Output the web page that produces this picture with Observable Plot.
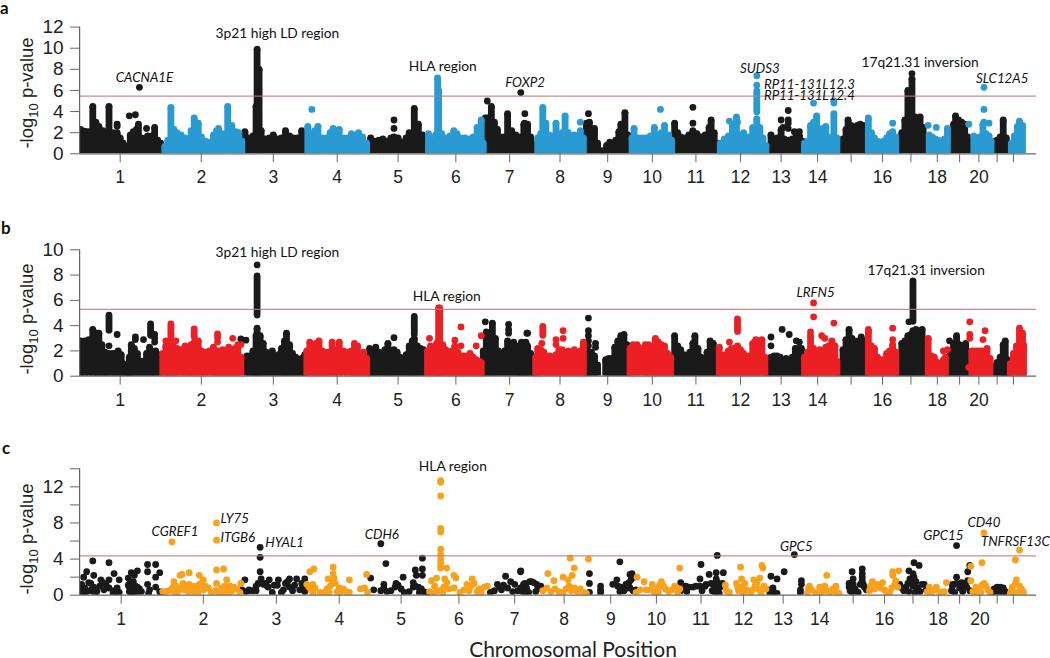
<!DOCTYPE html>
<html><head><meta charset="utf-8">
<script src="https://cdn.jsdelivr.net/npm/d3@7"></script>
<script src="https://cdn.jsdelivr.net/npm/@observablehq/plot@0.6"></script>
<style>
html,body{margin:0;padding:0;background:#fff;overflow:hidden}
#page{position:relative;width:1050px;height:658px;overflow:hidden;color:#111}
.ytitle{position:absolute;left:26.5px;transform:translate(-50%,-50%) rotate(-90deg);font:18.5px "Liberation Sans",sans-serif;white-space:nowrap;color:#222}
.ytitle sub{font-size:13px;line-height:0}
.letter{position:absolute;font:bold 17px/14px Lato,sans-serif;color:#111}
#xtitle{position:absolute;left:573px;top:639px;transform:translateX(-50%);font:21px/19px Lato,sans-serif;white-space:nowrap;color:#222}
</style></head><body><div id="page"></div>
<script>
// genome position units along the x axis; values are -log10 p
const DARK="#1a1a1a", BLUE="#2a9ad3", RED="#ec2024", ORANGE="#f9a11b";
const ticksAB=[40,120,191,254,314,371,424,481,528,572,615,659,699,735,768,799,827,853,875,894,912,928];
const ticksC=[41,122,194,256,317,374,429,485,531,576,620,662,701,737,770,801,829,854,875,895,912,928];
const chromLabels=["1","2","3","4","5","6","7","8","9","10","11","12","13","14","","16","","18","","20","",""];
// positions from chromosome 7's end onward were read on a second sheet whose origin sits 7.3 units later
const sheetBreak=442, sheetOffset=7.3;
const toPos=u=>u<sheetBreak?u:u-sheetOffset;

// ---------- panel a ----------
const aDarkColumns=[[1,2.3],[5,2.15],[9,2.1],[13,4.5],[16,3.0],[19,2.6],[23,2.2],[27,1.9],[29,4.5],[33,2.0],[37,2.0],[40,1.5],[43,1.0],[45,.7],[47,.4],[50,1.8],[53,2.1],[56,2.3],[58,2.8],[61,1.5],[65,1.4],[67,1.7],[71,1.7],[74,2.5],[77,1.3],[80,1.0],
[163,2.1],[167,1.5],[171,1.7],[174,4.5],[175,9.9],[177,8],[179,2.2],[183,1.4],[187,1.5],[191,1.8],[195,1.4],[199,1.5],[203,2.2],[207,1.7],[211,1.5],[215,1.5],[219,2.2],[222,1.2],
[287,1.5],[291,1.2],[295,1.3],[299,1.4],[303,1.2],[307,1.5],[310,1.6],[314,1.5],[318,1.1],[322,1.5],[325,2.0],[329,1.9],[330,4.3],[334,2.8],[338,1.8],[341,1.2],
[400,3.4],[402,3.4],[406,4.5],[409,3.0],[412,2.3],[415,1.6],[419,1.6],[422,3.8],[426,2.2],[430,1.8],[434,1.6],[438,2.8],[446,2.9],[449,2.8],[452,1.6],[455,.9],
[507,2.9],[510,3.0],[513,2.0],[515,2.4],[518,1.0],[521,.3],[524,.3],[527,.8],[530,1.1],[533,1.0],[536,1.3],[539,2.1],[541,2.8],[545,3.9],[548,1.8],
[594,2.9],[597,2.0],[600,1.6],[604,1.5],[608,1.8],[612,2.2],[616,1.9],[620,1.6],[624,1.8],[628,2.5],[630,3.2],[633,2.0],[636,1.0],
[686,.7],[689,1.8],[692,1.3],[695,1.5],[699,2.3],[702,1.4],[706,1.3],[710,1.4],[714,1.7],[717,1.7],[720,1.2],
[757,.8],[760,1.4],[763,2.3],[765,3.2],[768,2.7],[771,1.8],[774,2.7],[777,2.8],[780,2.7],[783,1.2],
[815,1.4],[818,2.0],[821,3.2],[824,6.0],[828,7.1],[831,3.5],[834,3.1],[836,3.5],[839,2.5],[842,1.0],
[866,1.0],[869,2.8],[871,3.6],[874,3.2],[877,3.0],[880,2.8],[883,1.6],[886,.9],
[909,1.2],[912,1.3],[915,1.6],[918,3.2],[921,1.5],[923,.8]];
const aBlueColumns=[[84,.7],[87,1.3],[90,4.4],[93,2.3],[96,2.0],[100,1.8],[104,1.5],[107,1.1],[110,2.2],[113,3.4],[117,2.9],[120,1.6],[124,1.2],[128,1.1],[132,1.8],[135,2.2],[137,2.4],[141,1.9],[146,4.5],[150,2.7],[154,2.1],[157,2.0],[160,1.2],
[225,2.6],[229,1.9],[232,2.2],[235,2.6],[239,1.5],[243,1.5],[247,2.0],[250,2.4],[253,2.2],[256,2.3],[260,1.5],[264,1.5],[268,1.9],[272,1.8],[275,2.0],[279,1.6],[283,1.0],
[344,1.9],[348,1.3],[351,1.8],[353,7.2],[354,6],[357,1.9],[361,1.5],[365,1.7],[369,2.2],[372,1.9],[376,1.5],[380,1.5],[384,1.4],[388,1.6],[392,2.5],[396,3.2],[398,1.0],
[459,1.5],[462,1.9],[464,4.4],[467,2.9],[470,1.8],[473,1.7],[477,2.9],[480,1.7],[483,2.0],[486,3.6],[489,2.0],[492,1.6],[495,1.8],[498,1.3],[501,2.2],[504,1.5],
[552,1.5],[554,2.4],[558,1.5],[562,1.5],[566,1.5],[570,1.7],[574,2.5],[578,1.8],[581,2.0],[584,2.7],[588,1.8],[591,1.3],
[639,1.0],[643,1.4],[647,1.7],[651,2.8],[655,3.5],[659,1.8],[663,1.5],[667,1.6],[671,2.5],[675,3.3],[678,2.5],[681,1.5],[684,.8],
[722,1.0],[725,1.2],[728,2.7],[731,3.0],[734,3.6],[737,2.3],[740,2.4],[743,2.6],[746,1.4],[749,1.6],[751,3.8],[754,1.5],
[785,3.4],[788,2.0],[791,1.5],[794,1.2],[797,1.1],[800,1.2],[803,1.5],[806,1.9],[809,2.1],[812,1.6],
[845,1.8],[848,1.6],[851,1.4],[854,1.3],[857,1.2],[860,1.4],[863,2.4],
[889,1.7],[892,1.5],[895,1.6],[898,2.8],[901,1.9],[904,1.7],[906,1.2],
[926,1.0],[929,1.7],[932,2.6],[934,3.1],[937,2.7]];
const aDarkHits=[[37,2.6],[37,2.8],[49,3.6],[55,3.7],[66,2.4],[59,6.3],[310,2.4],[310,3.2],[402,5.0],[439,3.8],[435,5.8],[509,3.8],[612,2.9],[612,4.4],[699,3.2],[701,2.5],[706,4.1],[706,3.2],[706,2.9],[706,2.4],[712,2.1],[717,2.1],[828,7.6]];
const aBlueHits=[[229,4.2],[501,3.0],[580,4.2],[675,7.4],[675,6.5],[656,3.0],[648,3.1],[662,2.0],[731,4.8],[751,4.8],[751,5.0],[809,2.9],[844,2.7],[852,2.5],[899,6.3],[899,4.2],[899,3.0],[904,2.9],[884,2.8]];
const aSegments=[[675,3.9,5.9]];
const aNotes=["3p21 high LD region","HLA region","17q21.31 inversion"];
const aNotePos=[195,358,836], aNoteVal=[11.4,8.3,8.67];
const aGenes=["CACNA1E","FOXP2","SUDS3","SLC12A5"];
const aGenePos=[64,446.5,678,917], aGeneVal=[7.2,6.7,8.04,7.15];
const aLeftGenes=["RP11-131L12.3","RP11-131L12.4"];
const aLeftPos=[682,682], aLeftVal=[6.55,5.5];

// ---------- panel b ----------
const bDarkColumns=[[1,2.8],[5,2.8],[9,2.9],[13,3.7],[16,3.4],[19,3.4],[22,2.5],[25,1.9],[28,1.8],[32,1.8],[35,1.8],[38,2.0],[41,1.7],[43,1.0],[47,.3],[49,1.5],[51,2.5],[54,2.2],[57,1.8],[60,1.2],[63,1.2],[66,1.8],[69,2.3],[72,1.9],[75,2.0],[78,1.7],
[165,1.6],[168,1.6],[171,2.0],[174,3.2],[175,3.8],[178,3.2],[181,2.6],[184,1.9],[187,1.6],[190,2.0],[193,1.5],[196,1.7],[199,2.2],[202,2.8],[204,3.4],[207,2.5],[210,1.8],[213,1.5],[216,1.2],[219,1.4],[222,1.7],
[286,2.2],[289,1.8],[292,2.3],[295,1.9],[298,1.7],[301,2.1],[304,2.6],[307,2.0],[310,2.1],[313,1.9],[316,1.5],[319,1.1],[322,1.7],[325,2.4],[328,2.8],[330,3.0],[333,2.4],[336,2.2],[339,2.1],
[398,2.0],[401,3.5],[404,2.5],[407,4.2],[410,3.0],[413,2.0],[416,1.8],[419,2.0],[422,2.8],[425,2.4],[428,2.7],[431,2.4],[434,2.2],[437,2.6],[440,2.7],[443,2.7],[446,2.6],[449,2.4],[452,1.8],[455,.9],
[507,1.5],[509,1.9],[512,1.9],[515,1.6],[518,.9],[526,1.3],[529,1.4],[532,1.4],[535,2.3],[538,2.8],[541,3.2],[544,3.3],[547,2.5],
[594,3.2],[597,2.4],[600,2.1],[603,1.7],[606,1.6],[609,1.9],[612,2.6],[614,3.2],[617,2.2],[620,1.5],[623,1.1],[626,1.9],[629,2.8],[632,2.6],[635,1.8],
[686,1.2],[689,1.5],[692,1.6],[695,1.6],[698,1.5],[701,1.3],[704,1.4],[707,.7],[710,1.5],[713,2.2],[716,2.2],[719,2.2],
[757,1.0],[760,2.1],[763,2.9],[766,3.7],[769,3.0],[772,2.0],[775,2.8],[778,3.1],[781,2.8],[783,1.6],
[815,1.4],[818,2.6],[821,2.8],[824,3.2],[827,3.3],[829,3.6],[832,3.7],[835,3.4],[838,3.7],[841,2.8],
[863,1.0],[866,2.0],[869,2.6],[872,3.2],[875,2.5],[878,2.4],[881,2.6],[884,1.0],
[909,.8],[912,1.1],[915,1.5],[918,2.5],[920,2.8],[922,1.3]];
const bRedColumns=[[82,1.8],[85,2.4],[88,2.4],[90,2.6],[93,2.3],[96,2.2],[100,2.1],[104,2.4],[107,2.0],[110,2.5],[113,2.7],[117,2.8],[120,2.0],[124,1.9],[128,2.0],[132,2.3],[135,2.0],[138,2.0],[141,2.1],[144,2.0],[147,2.3],[150,2.0],[153,2.2],[156,2.5],[159,1.5],
[224,2.0],[227,2.7],[230,2.2],[233,2.6],[236,2.8],[239,2.0],[242,1.9],[245,1.9],[249,2.7],[252,2.1],[256,2.7],[260,2.0],[264,1.9],[268,2.0],[271,2.6],[274,2.4],[277,1.4],[280,1.9],[283,1.4],
[343,2.0],[346,2.4],[349,2.2],[352,2.6],[354,5.4],[355,5.4],[358,2.5],[361,2.1],[364,1.8],[367,2.0],[370,2.4],[373,1.9],[376,1.6],[379,1.6],[382,1.6],[385,1.8],[388,1.5],[391,1.3],[394,1.2],[396,1.1],
[457,1.5],[459,2.2],[462,2.1],[465,1.9],[468,1.6],[471,1.6],[474,1.5],[477,1.7],[480,2.1],[483,2.1],[486,1.8],[489,2.0],[492,1.9],[495,2.1],[498,1.7],[501,2.0],[504,2.7],
[550,2.2],[553,2.5],[557,2.5],[561,2.2],[565,2.5],[568,2.5],[572,2.4],[575,3.0],[578,2.7],[581,2.5],[584,2.4],[587,1.8],[590,1.5],
[638,2.3],[641,1.6],[644,1.7],[647,2.0],[650,2.2],[653,2.2],[656,2.4],[659,2.1],[662,1.8],[665,1.5],[668,1.6],[671,2.6],[674,2.9],[677,2.8],[680,2.9],[683,1.5],
[722,1.5],[725,1.9],[728,3.2],[731,2.2],[734,1.8],[737,2.1],[740,2.0],[743,2.3],[746,2.4],[749,2.8],[752,2.4],[754,1.2],
[785,3.7],[788,2.4],[791,2.2],[794,1.5],[797,1.3],[800,1.3],[803,1.8],[806,2.0],[809,2.5],[812,1.9],
[844,3.0],[847,1.6],[850,1.5],[853,1.1],[856,.9],[859,1.3],[861,1.5],
[887,2.0],[890,2.0],[893,2.0],[896,2.0],[899,2.0],[902,2.2],[905,1.4],
[925,1.0],[928,1.8],[931,2.4],[934,3.8],[937,3.4],[938,2.5]];
const bDarkHits=[[29,2.4],[37,3.3],[55,3.1],[55,2.9],[63,2.9],[74,3.3],[74,3.0],[74,2.7],[159,2.95],[164,2.85],[175,8.8],[310,3.05],[400,4.3],[423,4.1],[423,3.7],[423,3.4],[441,3.4],[449,3.4],[509,4.6],[509,3.6],[509,3.2],[509,2.8],[509,2.4],[516,2.6],[516,2.3],[689,3.1],[689,2.4],[700,3.7],[707,3.3],[714,2.8],[717,2.7],[825,4.3],[865,2.8]];
const bRedHits=[[85,2.8],[95,2.8],[136,2.7],[151,3.0],[159,2.5],[345,3.0],[370,2.85],[376,3.9],[376,2.4],[391,2.4],[396,3.2],[463,2.6],[477,2.9],[477,2.5],[484,3.6],[484,3.0],[648,2.7],[728,3.5],[731,5.8],[731,4.7],[739,3.2],[742,3.0],[751,4.2],[785,3.5],[809,3.8],[809,2.9],[859,2.0],[863,2.1],[885,4.3],[885,3.3],[885,3.0],[884,.7],[900,3.6],[898,2.9]];
const bDarkSegments=[[175,4.8,7.9],[29,3.6,4.8],[330,3.3,4.7],[70,3.2,4.1],[829,4.3,7.5]];
const bRedSegments=[[90,2.9,4.1],[113,3.1,3.7],[136,3.0,3.3],[464,3.2,3.9],[656,3.5,4.5]];
const bNotes=["3p21 high LD region","HLA region","17q21.31 inversion"];
const bNotePos=[195,362,842], bNoteVal=[9.8,6.3,8.34];
const bGenes=["LRFN5"];
const bGenePos=[733], bGeneVal=[6.58];

// ---------- panel c ----------
const cDarkPoints=[[4,2.0],[7,2.6],[13,3.8],[14,2.2],[21,1.7],[29,3.6],[34,2.4],[39,1.7],[29,1.7],[48,1.9],[51,2.5],[57,2.7],[54,2.2],[67,3.4],[75,3.4],[67,2.6],[79,2.5],[75,2.0],[2,1.2],[2,.6],[5,.8],[9,1.4],[11,1.3],[14,.9],[17,.4],[20,1.0],[24,.6],[29,.8],[34,.5],[37,.8],[39,.3],[48,1.1],[50,.7],[54,1],[55,.5],[59,.7],[49,.4],[52,.3],[61,.4],[67,1.2],[69,.6],[68,.2],[75,.9],[79,.4],[80,.2],[52,1.2],[50,1.5],[53,1.5],[55,1.0],[57,.9],[49,.9],[12,.6],[6,.3],[15,.2],[3,.2],[10,.5],[26,1.2],[23,1.4],[33,.2],[36,.2],[51,.2],[56,.2],
[178,5.3],[178,4.2],[178,2.6],[163,1.7],[167,.5],[174,.5],[179,1.8],[187,1.7],[196,1.7],[207,1.8],[214,1.8],[222,1.8],[160,.6],[164,.4],[167,.6],[171,.5],[174,1.0],[176,1.3],[179,1.5],[181,1.2],[183,1.3],[185,1.0],[186,.9],[190,.3],[192,1.1],[195,1.1],[199,.3],[201,.6],[203,1.3],[205,1.5],[207,.9],[210,.5],[212,1.1],[217,.6],[219,1.3],[222,.4],[220,.8],
[297,5.7],[302,3.5],[287,1.9],[290,.6],[300,1.2],[319,2.0],[312,1.3],[329,1.4],[331,2.8],[332,2.2],[338,4.1],[338,2.9],[338,2.2],[297,.5],[300,.8],[303,.4],[307,.5],[311,.9],[314,1.1],[317,.7],[320,.3],[325,.4],[331,1.0],[334,.9],[337,.7],[339,.4],[341,.3],[343,.2],[335,.3],[329,.9],
[412,1.2],[420,2.1],[425,1.5],[435,2.7],[429,1.2],[439,1.3],[416,.6],[409,.5],[432,.5],[405,.3],[414,.9],[418,1.1],[422,.8],[427,.4],[437,.8],[440,.3],[442,2.6],[445,1.2],[448,.8],[451,1.5],[453,1.5],[455,1.4],[458,1.2],[442,.8],[444,.4],[450,.3],[457,.4],[459,.7],[462,1.0],
[510,2.4],[510,1.3],[510,.3],[521,1.0],[521,.6],[521,.3],[533,1.2],[537,1.7],[540,3.7],[550,2.3],[554,2.0],[552,2.4],[538,1.0],[541,.9],[544,.5],[547,.8],[550,.8],[553,.5],[556,.6],[546,1.2],[540,.4],[551,1.7],[549,1.4],
[600,1.4],[605,1.0],[612,.9],[619,1.8],[620,3.4],[628,2.3],[625,1.2],[636,4.4],[635,2.5],[642,2.5],[635,1.8],[600,.5],[603,.7],[606,.4],[608,.9],[615,1.0],[619,1.0],[621,.5],[624,1.0],[630,1.3],[631,.5],[633,1.0],[635,1.6],[637,.6],[639,.9],[637,1.3],[641,1.3],[634,.3],[638,.2],
[689,2.1],[695,1.8],[702,2.6],[690,.5],[688,.2],[692,.3],[695,.2],[687,.6],[691,.8],[712,4.5],[719,1.6],[719,1.2],[718,.6],[718,.3],
[769,2.6],[770,1.8],[779,2.9],[779,2.4],[779,2.0],[780,1.2],[766,1.3],[766,.9],[767,.5],[769,.3],[772,.7],[775,.3],[777,1.2],[779,1.6],[781,.9],[783,.6],[770,1.2],
[830,3.6],[835,3.3],[825,2.7],[829,2.4],[816,1.2],[818,.8],[820,.5],[822,.9],[824,1.3],[826,1.8],[828,1.5],[830,2.0],[832,1.5],[834,.8],[836,.4],[838,1.2],[840,1.2],[842,.6],[829,1.0],[825,.4],[831,.3],
[872,5.5],[872,2.0],[868,1.2],[885,3.3],[883,2.6],[877,1.4],[880,1.0],[867,.5],[868,1.0],[870,.3],[872,1.3],[875,.8],[878,.4],[880,1.3],[882,.9],[885,.5],[883,1.6],
[907,.4],[909,.7],[912,.9],[915,.9],[918,.8],[920,.4],[913,.4],[908,.2],[917,.3]];
const cOrangePoints=[[91,5.9],[135,8.0],[135,6.1],[135,2.8],[142,2.9],[99,2.2],[101,2.3],[108,2.5],[93,1.5],[118,2.2],[122,1.7],[145,1.7],[135,1.3],[159,1.3],[82,.4],[85,.4],[88,.5],[90,.6],[92,.9],[95,1.0],[97,.4],[100,.8],[103,.6],[105,1.0],[108,1.2],[110,.8],[113,1.0],[116,.7],[118,1.2],[120,1.3],[122,.6],[124,1.0],[127,.8],[134,.5],[137,.3],[140,.8],[143,1.0],[146,.7],[148,1.0],[150,.4],[152,.9],[155,.7],[158,.3],[102,1.3],[107,.4],[112,.4],[117,.3],[130,.3],[142,.3],[147,.3],[94,.3],
[227,2.6],[231,2.9],[230,1.2],[250,3.1],[250,2.4],[245,1.8],[266,1.7],[224,1.2],[226,.9],[228,.6],[230,.3],[232,.8],[237,.3],[241,.3],[244,.7],[246,.3],[247,1.0],[249,1.6],[251,1.9],[252,1.3],[254,.4],[256,.8],[258,.4],[260,.7],[263,.4],[266,.3],[277,.7],[281,.8],[284,.3],[283,2.3],
[356,12.7],[356,12.5],[356,11.0],[356,7.4],[356,7.0],[356,5.1],[356,4.5],[356,4.0],[356,3.6],[356,3.2],[356,3.0],[362,3.0],[369,2.2],[371,1.9],[347,1.6],[352,1.9],[350,1.0],[360,1.8],[362,1.4],[359,.9],[355,.5],[369,.8],[375,.3],[382,1.2],[387,1.8],[384,.5],[389,1.3],[394,.7],[399,.9],[402,1.0],[392,.4],[345,.4],[350,.3],[358,.3],[364,.7],[379,.6],[386,1.0],[396,.3],
[469,2.4],[475,1.6],[484,2.0],[491,4.1],[495,3.0],[493,2.2],[489,1.7],[509,4.0],[464,.5],[468,.8],[472,.4],[476,.7],[480,.4],[484,.3],[487,.7],[490,1.0],[492,.5],[495,.8],[498,.4],[501,.7],[504,.3],[507,.2],
[557,2.0],[564,1.5],[572,1.2],[599,3.0],[556,.3],[560,.6],[566,.6],[570,.6],[574,.3],[577,.7],[579,1.1],[581,1.5],[583,1.0],[585,.7],[588,.4],[591,.6],[594,1.0],[597,.3],[599,.7],[578,.3],
[644,1.1],[659,3.1],[660,1.8],[678,1.9],[680,3.3],[681,3.0],[672,1.7],[675,1.3],[682,1.0],[645,.5],[648,.3],[655,1.3],[657,.5],[660,.9],[663,1.3],[665,.6],[669,.3],[670,.5],[673,1.0],[676,.7],[679,.3],[684,.7],[656,.9],[662,.2],
[727,1.0],[744,2.2],[739,.9],[742,1.0],[753,1.0],[725,.3],[726,.8],[729,.6],[733,.3],[737,.9],[740,.9],[744,.5],[747,.3],[750,.7],[753,.4],[756,.2],[739,.3],
[786,.5],[787,1.0],[789,1.5],[791,.7],[794,1.2],[797,.8],[799,1.4],[801,.6],[803,.3],[806,.3],[808,.8],[811,1.2],[809,2.2],[809,2.6],[815,2.7],[812,1.6],[814,.9],
[845,.9],[852,.9],[862,1.4],[843,.4],[847,.3],[850,.6],[855,.4],[858,.3],[860,.4],
[899,6.9],[897,3.6],[886,3.2],[886,1.6],[888,.4],[891,.9],[894,.5],[897,1.1],[899,1.3],[901,1.0],[903,.6],[905,.3],[890,.3],[896,.3],
[934,5.0],[930,3.9],[926,.5],[927,.9],[930,1.3],[931,1.7],[934,1.0],[936,.7],[938,.3],[929,.3],[933,.3],[925,.2]];
const cNotes=["HLA region"];
const cNotePos=[368], cNoteVal=[14.2];
const cGenes=["CGREF1","CDH6","GPC5","GPC15","CD40","TNFRSF13C"];
const cGenePos=[94,298,714,859,899,930], cGeneVal=[7.05,6.68,5.42,6.64,8.04,5.9];
const cLeftGenes=["LY75","ITGB6","HYAL1"];
const cLeftPos=[139,139,183], cLeftVal=[8.5,6.4,5.83];

const panels=[
 {top:0,h:200,mt:26.6,mb:46.7,ymax:12,yticks:[0,2,4,6,8,10,12],yfmt:d=>d,thr:5.46,xt:ticksAB,color:BLUE,
  dcols:aDarkColumns,ccols:aBlueColumns,dhits:aDarkHits,chits:aBlueHits,dseg:[],cseg:aSegments,
  notes:[aNotes,aNotePos,aNoteVal],genes:[aGenes,aGenePos,aGeneVal],left:[aLeftGenes,aLeftPos,aLeftVal]},
 {top:215,h:200,mt:34.3,mb:39.3,ymax:10,yticks:[0,2,4,6,8,10],yfmt:d=>d,thr:5.29,xt:ticksAB,color:RED,
  dcols:bDarkColumns,ccols:bRedColumns,dhits:bDarkHits,chits:bRedHits,dseg:bDarkSegments,cseg:bRedSegments,
  notes:[bNotes,bNotePos,bNoteVal],genes:[bGenes,bGenePos,bGeneVal],left:[[],[],[]]},
 {top:430,h:200,mt:38.3,mb:35.3,ymax:14,yticks:[0,2,4,6,8,10,12,14],yfmt:d=>d%4===0&&d<14?d:"",thr:4.35,xt:ticksC,color:ORANGE,
  dcols:[],ccols:[],dhits:cDarkPoints,chits:cOrangePoints,dseg:[],cseg:[],
  notes:[cNotes,cNotePos,cNoteVal],genes:[cGenes,cGenePos,cGeneVal],left:[cLeftGenes,cLeftPos,cLeftVal]}
];
const X=d=>toPos(d[0]),Y=d=>d[1];
const R=3.4;
function layer(cols,hits,seg,col){return [
  Plot.ruleX(cols,{x:X,y1:0,y2:Y,stroke:col,strokeWidth:6.8,clip:"frame"}),
  Plot.dot(cols,{x:X,y:Y,r:R,fill:col,stroke:"none",clip:"frame"}),
  Plot.ruleX(seg,{x:X,y1:d=>d[1],y2:d=>d[2],stroke:col,strokeWidth:6.8,strokeLinecap:"round"}),
  Plot.dot(hits,{x:X,y:Y,r:R,fill:col,stroke:"none",clip:"frame"})
];}
function labels(tr,opts){const ids=tr[0].map((_,i)=>i);
  return Plot.text(ids,{x:i=>toPos(tr[1][i]),y:i=>tr[2][i],text:i=>tr[0][i],lineAnchor:"middle",fill:"#111",fontFamily:"Lato, sans-serif",fontSize:13.8,...opts});}
const page=document.getElementById("page");
for(const p of panels){
  const tickPos=p.xt.map(toPos);
  const lab=new Map(tickPos.map((t,i)=>[t,chromLabels[i]]));
  const svg=Plot.plot({
    width:1050,height:p.h,marginLeft:79.1,marginRight:14,marginTop:p.mt,marginBottom:p.mb,
    style:{position:"absolute",left:"0px",top:p.top+"px",background:"transparent",overflow:"visible"},
    x:{domain:[0,943.5]},y:{domain:[0,p.ymax]},
    marks:[
      ...layer(p.dcols,p.dhits,p.dseg,DARK),
      ...layer(p.ccols,p.chits,p.cseg,p.color),
      Plot.ruleY([p.thr],{stroke:"#c4757a",strokeWidth:1.3,strokeOpacity:.85}),
      Plot.ruleY([0],{stroke:"#666",strokeWidth:1.2}),
      Plot.ruleX([0],{y1:0,y2:p.ymax,stroke:"#666",strokeWidth:1.2}),
      Plot.axisY({ticks:p.yticks,tickFormat:p.yfmt,tickSize:9,tickPadding:7,label:null,stroke:"#666",fill:"#222",fontSize:19,fontFamily:"Liberation Sans, sans-serif"}),
      Plot.axisX({ticks:tickPos,tickFormat:d=>lab.get(d),tickSize:9,tickPadding:8,label:null,stroke:"#666",fill:"#222",fontSize:17.5,fontFamily:"Liberation Sans, sans-serif"}),
      labels(p.notes,{}),
      labels(p.genes,{fontStyle:"italic",fontSize:13.3}),
      labels(p.left,{fontStyle:"italic",fontSize:13.3,textAnchor:"start"})
    ]});
  page.appendChild(svg);
}
const yCenters=[92.5,318.5,539];
yCenters.forEach(c=>{const d=document.createElement("div");d.className="ytitle";d.style.top=c+"px";d.innerHTML="-log<sub>10</sub> p-value";page.appendChild(d);});
[["a",0,1],["b",1,221],["c",2,441]].forEach(([t,x,y])=>{const d=document.createElement("div");d.className="letter";d.textContent=t;d.style.left=x+"px";d.style.top=y+"px";page.appendChild(d);});
const xt=document.createElement("div");xt.id="xtitle";xt.textContent="Chromosomal Position";page.appendChild(xt);
</script></body></html>
